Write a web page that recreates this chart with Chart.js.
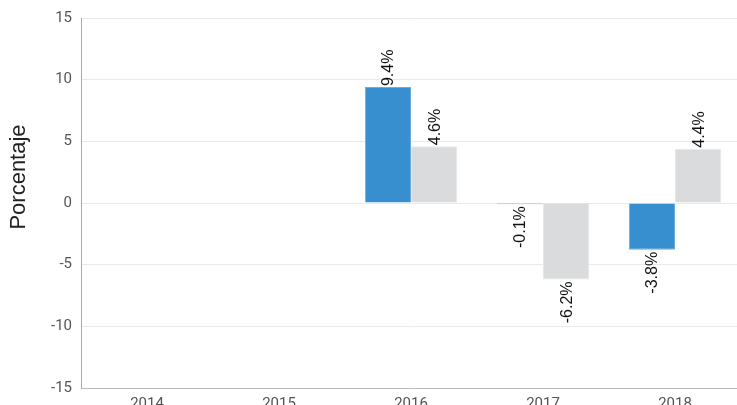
<!DOCTYPE html>
<html>
<head>
<meta charset="utf-8">
<script src="https://cdn.jsdelivr.net/npm/chart.js@4"></script>
<style>
  html, body { margin: 0; padding: 0; background: #fff; overflow: hidden; }
  #wrap { width: 741px; height: 420px; position: relative; }
</style>
</head>
<body>
<div id="wrap"><canvas id="myChart"></canvas></div>
<script>
const years = ["2014", "2015", "2016", "2017", "2018"];
const serieA = [null, null, 9.4, -0.1, -3.8];
const serieB = [null, null, 4.6, -6.2, 4.4];
const yTicks = [-15, -10, -5, 0, 5, 10, 15];
const axisTitle = "Porcentaje";

const barLabels = {
  id: "barLabels",
  afterDatasetsDraw(chart) {
    const ctx = chart.ctx;
    ctx.save();
    ctx.font = "16px 'Liberation Sans', Arial, sans-serif";
    ctx.fillStyle = "#111";
    ctx.textBaseline = "middle";
    chart.data.datasets.forEach((ds, i) => {
      chart.getDatasetMeta(i).data.forEach((bar, j) => {
        const v = ds.data[j];
        if (v === null) return;
        ctx.save();
        ctx.translate(bar.x + 1, bar.y);
        ctx.rotate(-Math.PI / 2);
        if (v >= 0) {
          ctx.textAlign = "left";
          ctx.fillText(v.toFixed(1) + "%", 1, 0);
        } else {
          ctx.textAlign = "right";
          ctx.fillText(v.toFixed(1) + "%", -2, 0);
        }
        ctx.restore();
      });
    });
    // axis title
    ctx.save();
    ctx.translate(19, 177);
    ctx.rotate(-Math.PI / 2);
    ctx.font = "22px 'Liberation Sans', Arial, sans-serif";
    ctx.fillStyle = "#222";
    ctx.textAlign = "center";
    ctx.fillText(axisTitle, 0, 0);
    ctx.restore();
    ctx.restore();
  }
};

const ctx = document.getElementById("myChart");
new Chart(ctx, {
  type: "bar",
  data: {
    labels: years,
    datasets: [{
      data: serieA,
      backgroundColor: "#388fd0",
      borderColor: "#6aaee0",
      borderWidth: 1,
      barPercentage: 1,
      categoryPercentage: 0.7
    }, {
      data: serieB,
      backgroundColor: "#dadbdc",
      borderColor: "#e6e7e8",
      borderWidth: 1,
      barPercentage: 1,
      categoryPercentage: 0.7
    }]
  },
  options: {
    responsive: true,
    maintainAspectRatio: false,
    animation: false,
    layout: { padding: { top: 12, left: 5, right: 0, bottom: 0 } },
    plugins: { legend: { display: false }, tooltip: { enabled: false } },
    scales: {
      x: {
        grid: { display: false, drawTicks: false },
        border: { color: "#bbb" },
        ticks: { color: "#555", font: { family: "Roboto", size: 15 }, padding: 7 }
      },
      y: {
        min: -15,
        max: 15,
        afterBuildTicks(scale) { scale.ticks = yTicks.map(v => ({ value: v })); },
        afterFit(scale) { scale.width = 76; },
        grid: { color: "#e9e9e9", drawTicks: false },
        border: { color: "#aaa" },
        ticks: { color: "#555", font: { family: "Roboto", size: 15 }, padding: 9 }
      }
    }
  },
  plugins: [barLabels]
});
</script>
</body>
</html>
